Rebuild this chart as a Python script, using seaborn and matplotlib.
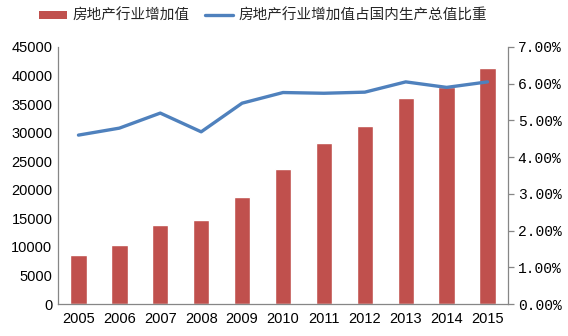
import numpy as np
import pandas as pd
import matplotlib
matplotlib.use("Agg")
import matplotlib.pyplot as plt
import seaborn as sns
from matplotlib.patches import Patch
from matplotlib.lines import Line2D
from matplotlib.ticker import FixedLocator, FuncFormatter

years = ["2005", "2006", "2007", "2008", "2009", "2010", "2011", "2012", "2013", "2014", "2015"]
value_added = [8516, 10370, 13809, 14739, 18654, 23569, 28167, 31248, 35988, 38001, 41308]
gdp_share = [4.60, 4.79, 5.20, 4.69, 5.47, 5.76, 5.74, 5.77, 6.05, 5.90, 6.05]
bar_label = "房地产行业增加值"
line_label = "房地产行业增加值占国内生产总值比重"

sns.set_theme(style="white")
plt.rcParams['font.family'] = ['Liberation Sans', 'Noto Sans CJK SC', 'DejaVu Sans']

bar_color = "#C0504D"
line_color = "#4F81BD"
spine_color = "#868686"

df = pd.DataFrame({"year": years, "value": value_added, "share": gdp_share})

fig = plt.figure(figsize=(5.68, 3.36), dpi=100)
ax = fig.add_axes([58/568, 1-304/336, 450/568, 257/336])
sns.barplot(data=df, x="year", y="value", color=bar_color, width=0.4,
            saturation=1, ax=ax, zorder=2)
ax.set_xlim(-0.5, len(years) - 0.5)
ax.set_ylim(0, 45000)
ax.set_yticks(range(0, 45001, 5000))
ax.set_xlabel("")
ax.set_ylabel("")

ax2 = ax.twinx()
sns.pointplot(data=df, x="year", y="share", color=line_color, markers="",
              linestyles="-", ax=ax2, zorder=3)
for l in ax2.lines:
    l.set_linewidth(2.4)
ax2.set_xlim(-0.5, len(years) - 0.5)
ax2.set_ylim(0, 7)
ax2.set_yticks(np.arange(0, 7.01, 1))
ax2.yaxis.set_major_formatter(FuncFormatter(lambda v, p: f"{v:.2f}%"))
ax2.set_xlabel("")
ax2.set_ylabel("")

for a in (ax, ax2):
    a.spines["top"].set_visible(False)
    for s in ("left", "right", "bottom"):
        a.spines[s].set_color(spine_color)
        a.spines[s].set_linewidth(0.9)
    a.grid(False)

ax.spines["right"].set_visible(False)
ax2.spines["left"].set_visible(False)
ax2.spines["bottom"].set_visible(False)

ax.tick_params(axis="y", length=0, labelsize=10.5, colors="#000000", pad=4)
ax.tick_params(axis="x", which="major", length=0, labelsize=10.5, pad=6, colors="#000000")
ax.xaxis.set_minor_locator(FixedLocator(np.arange(-0.5, len(years), 1.0)))
ax.tick_params(axis="x", which="minor", length=4, width=0.9, color=spine_color, direction="out")

ax2.tick_params(axis="y", length=4, width=0.9, color=spine_color, direction="out",
                labelsize=10.5, labelcolor="#000000", pad=3)
for t in ax2.get_yticklabels():
    t.set_family(["Liberation Mono", "DejaVu Sans Mono"])

handles = [Patch(facecolor=bar_color, edgecolor="none"),
           Line2D([0], [0], color=line_color, lw=2.4)]
fig.legend(handles, [bar_label, line_label], loc="center", bbox_to_anchor=(263/568, 1-16/336),
           ncol=2, frameon=False, prop={"family": ["Noto Sans CJK SC"], "size": 10.5},
           handlelength=1.9, handleheight=0.5, columnspacing=1.1, handletextpad=0.35,
           borderpad=0)

fig.savefig("out.png", dpi=100)
